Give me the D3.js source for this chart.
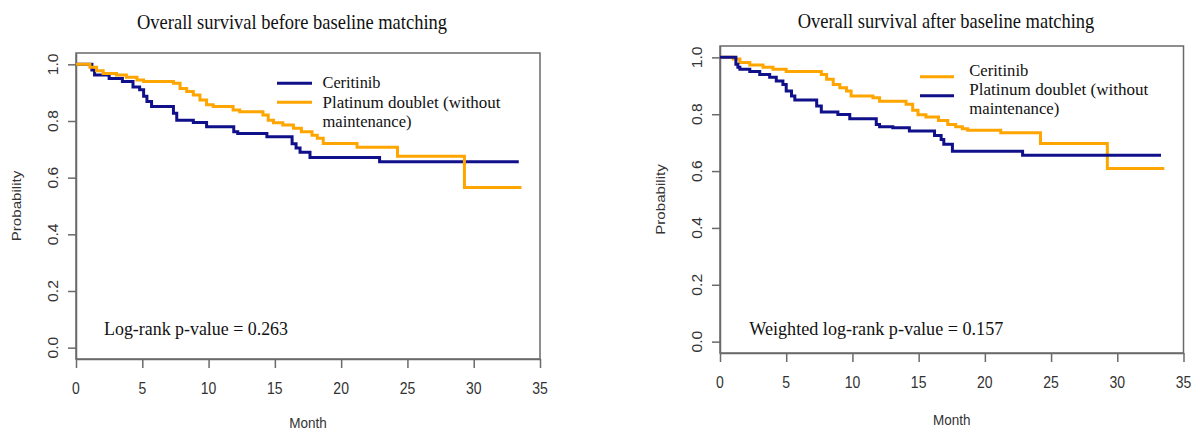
<!DOCTYPE html>
<html><head><meta charset="utf-8">
<script src="https://cdn.jsdelivr.net/npm/d3@7"></script>
<style>html,body{margin:0;padding:0;background:#fff;} svg{display:block;}</style>
</head><body>
<svg id="chart" width="1192" height="432"></svg>
<script>
// ---------- data ----------
const monthTicks = [0, 5, 10, 15, 20, 25, 30, 35];
const probTicks = [0, 0.2, 0.4, 0.6, 0.8, 1.0];
const panelTitles = ["Overall survival before baseline matching", "Overall survival after baseline matching"];
const pValueLabels = ["Log-rank p-value = 0.263", "Weighted log-rank p-value = 0.157"];
const ceritinibLabel = ["Ceritinib"];
const platinumLabel = ["Platinum doublet (without", "maintenance)"];

// before matching: Ceritinib
const beforeCeritinibTime = [0, 1.2, 1.4, 2.5, 3.5, 4.3, 4.8, 5.1, 5.35, 5.7, 7.35, 7.6, 8.85, 9.85, 11.9, 12.2, 14.4, 16.3, 16.6, 16.9, 17.65, 22.9, 33.4];
const beforeCeritinibSurv = [1.0, 0.98, 0.962, 0.95, 0.939, 0.92, 0.91, 0.887, 0.869, 0.851, 0.827, 0.803, 0.795, 0.78, 0.762, 0.756, 0.744, 0.72, 0.705, 0.69, 0.671, 0.656, 0.656];
// before matching: Platinum doublet
const beforePlatinumTime = [0, 1.05, 1.55, 2.05, 3.05, 3.8, 4.6, 5.1, 7.35, 7.85, 8.35, 8.85, 9.35, 9.85, 10.35, 11.85, 12.35, 14.1, 14.5, 14.9, 15.6, 16.4, 17.0, 17.8, 18.2, 18.65, 21.2, 24.25, 29.3, 33.6];
const beforePlatinumSurv = [1.0, 0.99, 0.977, 0.968, 0.962, 0.954, 0.945, 0.939, 0.933, 0.915, 0.904, 0.892, 0.874, 0.857, 0.851, 0.839, 0.833, 0.821, 0.803, 0.794, 0.786, 0.774, 0.762, 0.75, 0.739, 0.721, 0.707, 0.676, 0.565, 0.565];
// after matching: Ceritinib
const afterCeritinibTime = [0, 1.0, 1.5, 2.25, 3.25, 4.0, 5.0, 7.65, 8.05, 8.55, 9.05, 9.55, 9.9, 11.55, 12.05, 14.05, 14.55, 14.95, 15.55, 16.5, 17.2, 17.8, 18.3, 18.7, 21.2, 24.2, 29.25, 33.55];
const afterCeritinibSurv = [1.0, 0.994, 0.982, 0.973, 0.965, 0.958, 0.95, 0.94, 0.923, 0.905, 0.893, 0.882, 0.864, 0.858, 0.846, 0.835, 0.814, 0.798, 0.79, 0.778, 0.764, 0.756, 0.749, 0.744, 0.735, 0.697, 0.609, 0.609];
// after matching: Platinum doublet
const afterPlatinumTime = [0, 1.2, 1.35, 1.5, 2.25, 3.0, 3.75, 4.25, 4.75, 5.0, 5.4, 5.65, 7.3, 7.65, 8.9, 9.8, 11.8, 12.05, 13.05, 14.3, 16.2, 16.7, 16.9, 17.55, 22.85, 33.3];
const afterPlatinumSurv = [1.0, 0.976, 0.965, 0.958, 0.95, 0.94, 0.93, 0.917, 0.905, 0.882, 0.864, 0.85, 0.829, 0.808, 0.799, 0.784, 0.764, 0.756, 0.752, 0.741, 0.725, 0.711, 0.694, 0.67, 0.656, 0.656];

// ---------- drawing ----------
const BLUE = "#10108a", ORANGE = "#ffa500";
const svg = d3.select("#chart");
const SANS = "Liberation Sans, Arial, sans-serif";
const SERIF = "Liberation Serif, Times New Roman, serif";

function zip(t, s) { return t.map((v, i) => ({ t: v, s: s[i] })); }

function txt(g, x, y, str, o) {
  const sy = o.sy == null ? 1.12 : o.sy;
  const t = g.append("text")
    .attr("transform", `translate(${x},${y}) scale(1,${sy})` + (o.rot ? ` rotate(${o.rot})` : ""))
    .attr("font-family", o.family)
    .attr("font-size", o.size)
    .attr("fill", o.fill || "#222")
    .attr("text-anchor", o.anchor || "start")
    .text(str);
  if (o.len) t.attr("textLength", o.len).attr("lengthAdjust", "spacingAndGlyphs");
  return t;
}

const panels = [
  { box: [76, 540, 53, 359], title: [292, 29], pval: [104, 335.3, 184],
    series: [
      { data: zip(beforeCeritinibTime, beforeCeritinibSurv), color: BLUE },
      { data: zip(beforePlatinumTime, beforePlatinumSurv), color: ORANGE }],
    legend: { x1: 277, x2: 312, tx: 322.5,
      items: [{ color: BLUE, ly: 83.3, lines: ceritinibLabel, by: [88.3], len: [58] },
              { color: ORANGE, ly: 102.3, lines: platinumLabel, by: [108.3, 126.5], len: [178, 89] }] } },
  { box: [720, 1183.5, 46, 353], title: [946, 28], pval: [749.3, 335.3, 254],
    series: [
      { data: zip(afterCeritinibTime, afterCeritinibSurv), color: ORANGE },
      { data: zip(afterPlatinumTime, afterPlatinumSurv), color: BLUE }],
    legend: { x1: 920, x2: 954, tx: 969.3,
      items: [{ color: ORANGE, ly: 76.7, lines: ceritinibLabel, by: [75.5], len: [59] },
              { color: BLUE, ly: 95.7, lines: platinumLabel, by: [95, 113.5], len: [179, 90] }] } }
];

panels.forEach((p, idx) => {
  const [x0, x1, yT, yB] = p.box;
  const x = d3.scaleLinear().domain([0, 35]).range([x0, x1]);
  const y = d3.scaleLinear().domain([-0.04, 1.04]).range([yB, yT]);
  const g = svg.append("g");

  // box
  g.append("rect").attr("x", x0).attr("y", yT).attr("width", x1 - x0).attr("height", yB - yT)
    .attr("fill", "none").attr("stroke", "#6a6a6a").attr("stroke-width", 1.5);

  // x axis
  const xa = g.append("g").attr("transform", `translate(0,${yB})`)
    .call(d3.axisBottom(x).tickValues(monthTicks).tickSize(9).tickSizeOuter(0).tickFormat(d3.format("d")));
  xa.select(".domain").attr("stroke", "#6a6a6a").attr("stroke-width", 1.5);
  xa.selectAll(".tick line").attr("stroke", "#6a6a6a").attr("stroke-width", 1.5);
  xa.selectAll(".tick text").remove();
  monthTicks.forEach(v => txt(g, x(v), yB + 35, String(v), { family: SANS, size: 14, anchor: "middle", fill: "#333" }));

  // y axis
  const ya = g.append("g").attr("transform", `translate(${x0},0)`)
    .call(d3.axisLeft(y).tickValues(probTicks).tickSize(8).tickSizeOuter(0));
  ya.select(".domain").attr("stroke", "#6a6a6a").attr("stroke-width", 1.5);
  ya.selectAll(".tick line").attr("stroke", "#6a6a6a").attr("stroke-width", 1.5);
  ya.selectAll(".tick text").remove();
  probTicks.forEach(v => txt(g, x0 - 18.5, y(v), d3.format(".1f")(v), { family: SANS, size: 14, anchor: "middle", rot: -90, fill: "#333" }));

  // axis titles
  txt(g, (x0 + x1) / 2, Math.min(yB + 72, 428), "Month", { family: SANS, size: 13.5, anchor: "middle", fill: "#333" });
  txt(g, x0 - 55, (yT + yB) / 2, "Probability", { family: SANS, size: 13.5, anchor: "middle", rot: -90, fill: "#333" });

  // title
  txt(g, p.title[0], p.title[1], panelTitles[idx], { family: SERIF, size: 18.5, anchor: "middle", fill: "#111" });

  // curves
  const line = d3.line().x(d => x(d.t)).y(d => y(d.s)).curve(d3.curveStepAfter);
  p.series.forEach(s => {
    g.append("path").datum(s.data).attr("d", line)
      .attr("fill", "none").attr("stroke", s.color).attr("stroke-width", 3);
  });

  // legend
  const L = p.legend;
  L.items.forEach(it => {
    g.append("line").attr("x1", L.x1).attr("x2", L.x2).attr("y1", it.ly).attr("y2", it.ly)
      .attr("stroke", it.color).attr("stroke-width", 3);
    it.lines.forEach((ln, k) => txt(g, L.tx, it.by[k], ln, { family: SERIF, size: 16, fill: "#111", sy: 1.0, len: it.len[k] }));
  });

  // p-value
  txt(g, p.pval[0], p.pval[1], pValueLabels[idx], { family: SERIF, size: 17.5, fill: "#111", len: p.pval[2] });
});
</script>
</body></html>
